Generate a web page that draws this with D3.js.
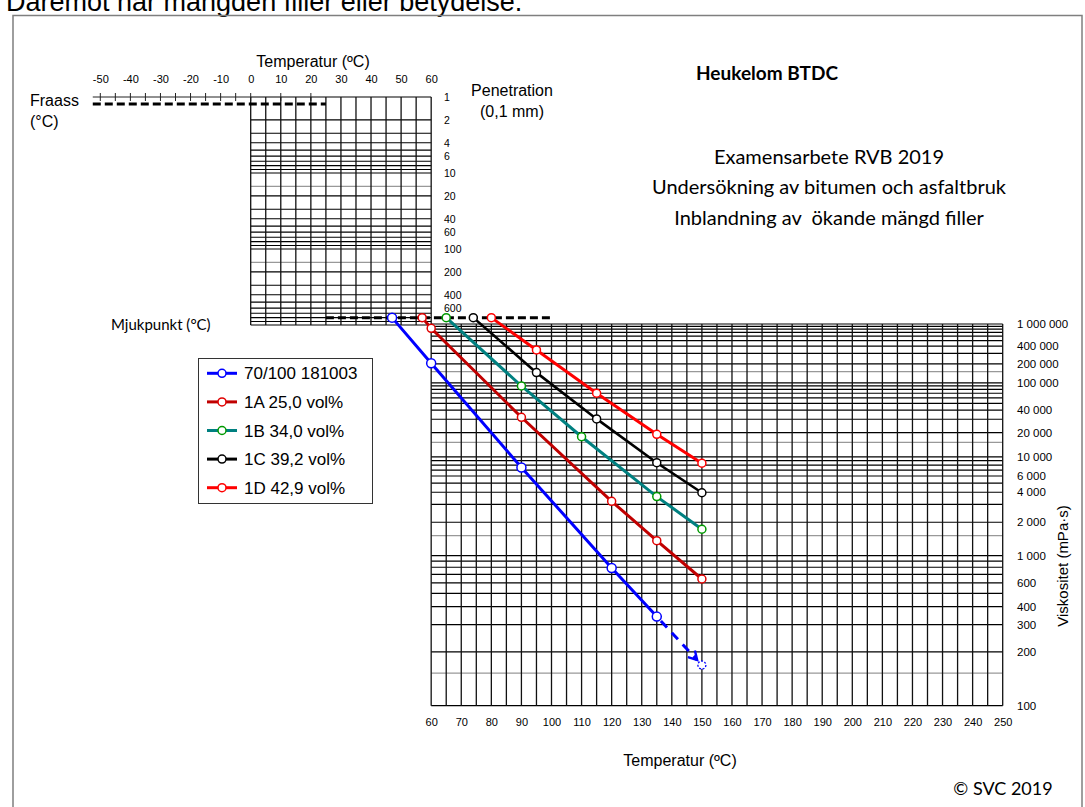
<!DOCTYPE html>
<html>
<head>
<meta charset="utf-8">
<script src="https://cdn.jsdelivr.net/npm/d3@7"></script>
<style>
body { margin: 0; background: #fff; }
text { font-family: "Liberation Sans", Arial, sans-serif; fill: #000; }
</style>
</head>
<body>
<script>
var width = 1085,
  height = 807;

// serier
var names = ["70/100 181003", "1A 25,0 vol%", "1B 34,0 vol%", "1C 39,2 vol%", "1D 42,9 vol%"];
var lineColors = ["#0000ff", "#c00000", "#008080", "#000000", "#ff0000"];
var dotColors = ["#0000ff", "#e00000", "#009900", "#000000", "#ff0000"];
// mjukpunkt (°C), ritas vid penetration 800
var softening = [47, 57, 65, 74, 80];
var temps = [
  [60, 90, 120, 135],
  [60, 90, 120, 135, 150],
  [90, 110, 135, 150],
  [95, 115, 135, 150],
  [95, 115, 135, 150]
];
var visc = [
  [205000, 7500, 790, 340],
  [832000, 31900, 3220, 1350, 644],
  [89900, 17660, 3600, 1718],
  [144900, 30300, 8510, 3950],
  [342800, 70000, 18970, 8390]
];
// extrapolerad punkt for 70/100
var extraTemp = 150,
  extraVisc = 167;

var topTempTicks = [-50, -40, -30, -20, -10, 0, 10, 20, 30, 40, 50, 60];
var bottomTempTicks = [60, 70, 80, 90, 100, 110, 120, 130, 140, 150, 160, 170, 180, 190, 200, 210, 220, 230, 240, 250];
var penTicks = [1, 2, 4, 6, 10, 20, 40, 60, 100, 200, 400, 600];
var viscTicks = [1000000, 400000, 200000, 100000, 40000, 20000, 10000, 6000, 4000, 2000, 1000, 600, 400, 300, 200, 100];
var fraassTicks = [-50, -45, -40, -35, -30, -25, -20, -15, -10, -5, 0, 10, 20];

var mant = [1, 1.5, 2, 3, 4, 5, 6, 7, 8, 9];

var svg = d3.select("body").append("svg")
  .attr("width", width)
  .attr("height", height);

// text som sticker upp ovanfor
svg.append("text")
  .attr("x", 6).attr("y", 11)
  .style("font-size", "27px")
  .text("Däremot när mängden filler eller betydelse.");

svg.append("rect")
  .attr("x", 13).attr("y", 15.5)
  .attr("width", 1069).attr("height", 820)
  .attr("fill", "none")
  .attr("stroke", "#7f7f7f")
  .attr("stroke-width", 1.5);

// skalor
var x = d3.scaleLinear().domain([0, 250]).range([250.7, 1002.7]);
var yPen = d3.scaleLog().domain([1, 1000]).range([97, 325]);
// viskositet: log(log(eta) - 0,5)
var viscLog = d3.scaleLog().domain([Math.log10(100) - 0.5, Math.log10(1e6) - 0.5]).range([705.7, 324]);
function yVisc(v) {
  return viscLog(Math.log10(v) - 0.5);
}

// rutnat
var penGrid = [];
[1, 10, 100].forEach(function (d) {
  mant.forEach(function (m) {
    if (d == 1 && m == 1.5) return;
    penGrid.push({ v: m * d, gray: m == 1.5 });
  });
});
penGrid.push({ v: 1000, gray: false });

var viscGrid = [];
[100, 1000, 10000, 100000].forEach(function (d) {
  mant.forEach(function (m) {
    viscGrid.push({ v: m * d, gray: m == 1.5 });
  });
});
viscGrid.push({ v: 1000000, gray: false });

var upperT = [], lowerT = [];
for (var t = 0; t <= 60; t += 5) upperT.push(t);
for (var t = 60; t <= 250; t += 5) lowerT.push(t);

var grid = svg.append("g").attr("fill", "none");

grid.selectAll(".ph").data(penGrid).enter().append("line")
  .attr("x1", x(0)).attr("x2", x(60))
  .attr("y1", function (d) { return yPen(d.v); })
  .attr("y2", function (d) { return yPen(d.v); })
  .attr("stroke", function (d) { return d.gray ? "#999" : "#000"; })
  .attr("stroke-width", 1.2);

grid.selectAll(".pv").data(upperT).enter().append("line")
  .attr("x1", function (d) { return x(d); })
  .attr("x2", function (d) { return x(d); })
  .attr("y1", yPen(1)).attr("y2", yPen(1000))
  .attr("stroke", "#111")
  .attr("stroke-width", 1.3);

grid.selectAll(".vh").data(viscGrid).enter().append("line")
  .attr("x1", x(60)).attr("x2", x(250))
  .attr("y1", function (d) { return yVisc(d.v); })
  .attr("y2", function (d) { return yVisc(d.v); })
  .attr("stroke", function (d) { return d.gray ? "#999" : "#000"; })
  .attr("stroke-width", 1.2);

grid.selectAll(".vv").data(lowerT).enter().append("line")
  .attr("x1", function (d) { return x(d); })
  .attr("x2", function (d) { return x(d); })
  .attr("y1", yVisc(1000000)).attr("y2", yVisc(100))
  .attr("stroke", "#111")
  .attr("stroke-width", 1.3);

// Fraass-rad
svg.append("line")
  .attr("x1", x(-52.5)).attr("x2", x(0))
  .attr("y1", yPen(1)).attr("y2", yPen(1))
  .attr("stroke", "#222").attr("stroke-width", 1);
svg.selectAll(".ft").data(fraassTicks).enter().append("line")
  .attr("x1", function (d) { return x(d); })
  .attr("x2", function (d) { return x(d); })
  .attr("y1", yPen(1) - 4).attr("y2", yPen(1) + 4)
  .attr("stroke", "#222").attr("stroke-width", 1);
svg.append("line")
  .attr("x1", x(-52.5)).attr("x2", x(25))
  .attr("y1", 104).attr("y2", 104)
  .attr("stroke", "#000").attr("stroke-width", 3)
  .attr("stroke-dasharray", "8,4");

// mjukpunkt-linje
svg.append("line")
  .attr("x1", x(25)).attr("x2", x(100))
  .attr("y1", yPen(800)).attr("y2", yPen(800))
  .attr("stroke", "#000").attr("stroke-width", 3)
  .attr("stroke-dasharray", "8,4");

// axlar
function styleAxis(g, size) {
  g.select(".domain").remove();
  g.selectAll("text")
    .attr("font-family", "Liberation Sans, Arial, sans-serif")
    .style("font-size", size + "px")
    .attr("fill", "#000");
}
var fmt = d3.formatLocale({ decimal: ",", thousands: " ", grouping: [3], currency: ["", ""] }).format(",");
function plain(d) { return String(d); }

svg.append("g").attr("transform", "translate(0,83)")
  .call(d3.axisTop(x).tickValues(topTempTicks).tickSize(0).tickPadding(0).tickFormat(plain))
  .call(styleAxis, 11);

svg.append("g").attr("transform", "translate(0,706)")
  .call(d3.axisBottom(x).tickValues(bottomTempTicks).tickSize(0).tickPadding(12).tickFormat(plain))
  .call(styleAxis, 11);

svg.append("g").attr("transform", "translate(432,0)")
  .call(d3.axisRight(yPen).tickValues(penTicks).tickSize(0).tickPadding(12).tickFormat(plain))
  .call(styleAxis, 10.5);

svg.append("g").attr("transform", "translate(1005,0)")
  .call(d3.axisRight(viscLog)
    .tickValues(viscTicks.map(function (v) { return Math.log10(v) - 0.5; }))
    .tickSize(0).tickPadding(12)
    .tickFormat(function (u) { return fmt(Math.round(Math.pow(10, u + 0.5))); }))
  .call(styleAxis, 11.5);

// serielinjer
var line = d3.line();
var series = names.map(function (n, i) {
  var pts = [[x(softening[i]), yPen(800)]];
  temps[i].forEach(function (t, j) {
    pts.push([x(t), yVisc(visc[i][j])]);
  });
  return pts;
});

// extrapolering 70/100
svg.append("defs").append("marker")
  .attr("id", "arr")
  .attr("viewBox", "0 0 10 10")
  .attr("refX", 8).attr("refY", 5)
  .attr("markerWidth", 4).attr("markerHeight", 4)
  .attr("markerUnits", "strokeWidth")
  .attr("orient", "auto")
  .append("path")
  .attr("d", "M1,1 L8,5 L1,9")
  .attr("fill", "none")
  .attr("stroke", "#0000ff")
  .attr("stroke-width", 2);

var last = series[0][series[0].length - 1];
var ex = [x(extraTemp), yVisc(extraVisc)];
var ang = Math.atan2(ex[1] - last[1], ex[0] - last[0]);
svg.append("path")
  .attr("d", line([[last[0] + 6 * Math.cos(ang), last[1] + 6 * Math.sin(ang)], [ex[0] - 7 * Math.cos(ang), ex[1] - 7 * Math.sin(ang)]]))
  .attr("fill", "none")
  .attr("stroke", "#0000ff")
  .attr("stroke-width", 3)
  .attr("stroke-dasharray", "9,7")
  .attr("marker-end", "url(#arr)");
svg.append("circle")
  .attr("cx", ex[0]).attr("cy", ex[1]).attr("r", 4)
  .attr("fill", "#fff")
  .attr("stroke", "#0000ff")
  .attr("stroke-width", 1.3)
  .attr("stroke-dasharray", "2,1.5");

var sg = svg.selectAll(".serie").data(series).enter().append("g");
sg.append("path")
  .attr("d", function (d) { return line(d); })
  .attr("fill", "none")
  .attr("stroke", function (d, i) { return lineColors[i]; })
  .attr("stroke-width", function (d, i) { return i == 3 ? 2.6 : 3; });
sg.each(function (d, i) {
  d3.select(this).selectAll("circle").data(d).enter().append("circle")
    .attr("cx", function (p) { return p[0]; })
    .attr("cy", function (p) { return p[1]; })
    .attr("r", i == 0 ? 4.5 : 4)
    .attr("fill", "#fff")
    .attr("stroke", dotColors[i])
    .attr("stroke-width", 1.5);
});

// legend
var lg = svg.append("g");
lg.append("rect")
  .attr("x", 198.5).attr("y", 358.5)
  .attr("width", 174).attr("height", 145)
  .attr("fill", "#fff")
  .attr("stroke", "#333")
  .attr("stroke-width", 1);
var items = lg.selectAll(".it").data(names).enter().append("g")
  .attr("transform", function (d, i) { return "translate(0," + (373.3 + i * 28.6) + ")"; });
items.append("line")
  .attr("x1", 207).attr("x2", 237)
  .attr("stroke", function (d, i) { return lineColors[i]; })
  .attr("stroke-width", 3);
items.append("circle")
  .attr("cx", 222).attr("r", 4)
  .attr("fill", "#fff")
  .attr("stroke", function (d, i) { return dotColors[i]; })
  .attr("stroke-width", 1.5);
items.append("text")
  .attr("x", 244).attr("y", 6)
  .style("font-size", "17px")
  .text(function (d) { return d; });

// texter
function label(txt, px, py, size, anchor, fam, weight) {
  return svg.append("text")
    .attr("x", px).attr("y", py)
    .attr("text-anchor", anchor || "middle")
    .style("font-size", size + "px")
    .style("font-family", fam || null)
    .style("font-weight", weight || null)
    .text(txt);
}
var cal = "Lato, 'Open Sans', sans-serif";
label("Temperatur (ºC)", 313, 67, 16);
label("Fraass", 30, 106, 16, "start");
label("(°C)", 30, 127, 16, "start");
label("Penetration", 512, 96, 16);
label("(0,1 mm)", 512, 117, 16);
label("Mjukpunkt (°C)", 111, 330, 15, "start", cal);
label("Heukelom BTDC", 767, 80, 19, "middle", cal, "bold");
label("Examensarbete RVB 2019", 829, 164, 20, "middle", cal);
label("Undersökning av bitumen och asfaltbruk", 829, 194, 20, "middle", cal);
label("Inblandning av  ökande mängd filler", 829, 225, 20, "middle", cal).style("white-space", "pre");
label("Temperatur (ºC)", 680, 766, 16);
label("© SVC 2019", 1003, 795, 18, "middle", cal);
svg.append("text")
  .attr("transform", "translate(1068,566) rotate(-90)")
  .attr("text-anchor", "middle")
  .style("font-size", "15px")
  .text("Viskositet (mPa·s)");
</script>
</body>
</html>
